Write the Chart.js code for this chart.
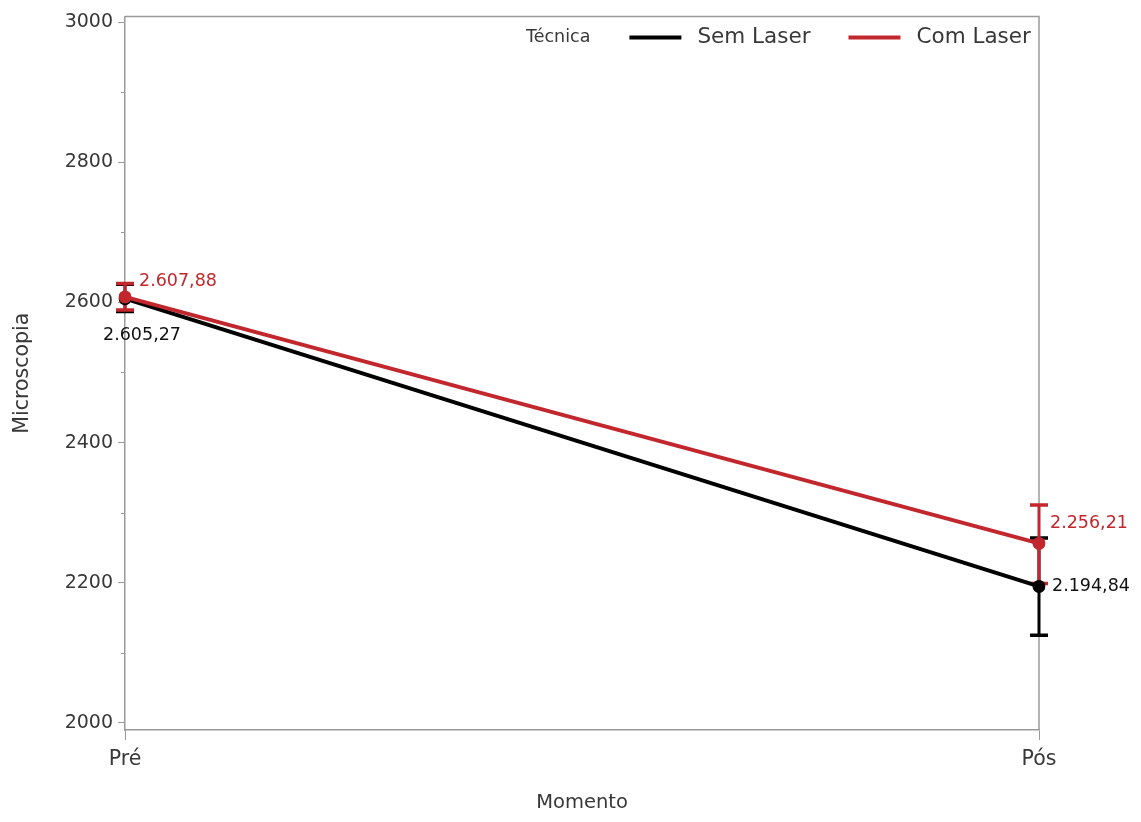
<!DOCTYPE html>
<html lang="pt">
<head>
<meta charset="utf-8">
<title>Microscopia por Momento</title>
<script src="https://cdn.jsdelivr.net/npm/chart.js@4"></script>
<style>
  html, body { margin: 0; padding: 0; background: #fff; }
  canvas { display: block; }
</style>
</head>
<body>
<canvas id="chart" width="1141" height="822"></canvas>
<script>
// === data ===
const MOMENTOS = ["Pré", "Pós"];

const SEM_LASER = [2605.27, 2194.84];
const SEM_LASER_LOW = [2587, 2125];
const SEM_LASER_HIGH = [2626, 2264];

const COM_LASER = [2607.88, 2256.21];
const COM_LASER_LOW = [2589, 2199];
const COM_LASER_HIGH = [2627, 2311];

const Y_MAJOR = [2000, 2200, 2400, 2600, 2800, 3000];
const Y_MINOR = [2100, 2300, 2500, 2700, 2900];

const LEGEND_TITLE = "Técnica";

// === styles ===
const FONT = "'DejaVu Sans', 'Liberation Sans', Arial, sans-serif";
const BLACK = "#000000";
const RED = "#c1272d";
const AXIS = "#9a9a9a";
const TEXT = "#383838";

// box around the plot area and the minor y ticks (under the data)
const frame = {
  id: "frame",
  beforeDatasetsDraw(chart) {
    const { ctx, chartArea: a, scales: { y } } = chart;
    ctx.save();
    ctx.strokeStyle = AXIS;
    ctx.lineWidth = 1.5;
    ctx.beginPath();
    ctx.moveTo(a.left, a.top);
    ctx.lineTo(a.right, a.top);
    ctx.lineTo(a.right, a.bottom);
    ctx.stroke();

    ctx.lineWidth = 1;
    ctx.beginPath();
    Y_MINOR.forEach(v => {
      const py = Math.round(y.getPixelForValue(v)) + 0.5;
      ctx.moveTo(a.left - 4, py);
      ctx.lineTo(a.left, py);
    });
    ctx.stroke();
    ctx.restore();
  },
};

// error bars (mean +/- interval) for each dataset
const errorBars = {
  id: "errorBars",
  beforeDatasetsDraw(chart) {
    const { ctx, scales: { x, y } } = chart;
    const drawOrder = [1, 0]; // Sem Laser first, Com Laser on top
    drawOrder.forEach(i => {
      const ds = chart.data.datasets[i];
      ctx.save();
      ctx.strokeStyle = ds.borderColor;
      ds.low.forEach((lo, j) => {
        const px = x.getPixelForValue(j);
        const yLo = y.getPixelForValue(lo);
        const yHi = y.getPixelForValue(ds.high[j]);
        ctx.lineWidth = 3;
        ctx.beginPath();
        ctx.moveTo(px, yLo);
        ctx.lineTo(px, yHi);
        ctx.stroke();
        ctx.lineWidth = 3.5;
        ctx.beginPath();
        ctx.moveTo(px - 9, yLo);
        ctx.lineTo(px + 9, yLo);
        ctx.moveTo(px - 9, yHi);
        ctx.lineTo(px + 9, yHi);
        ctx.stroke();
      });
      ctx.restore();
    });
  },
};

// value labels next to each mean point
const valueLabels = {
  id: "valueLabels",
  afterDatasetsDraw(chart) {
    const { ctx, scales: { x, y } } = chart;
    const fmt = v => v.toLocaleString("pt-BR", { minimumFractionDigits: 2, maximumFractionDigits: 2 });
    // per dataset, per point: [dx, dy, align]
    const placement = {
      "Sem Laser": [[17, 37, "center"], [13, 0, "left"]],
      "Com Laser": [[14, -15, "left"], [11, -20, "left"]],
    };
    ctx.save();
    ctx.font = `17.5px ${FONT}`;
    ctx.textBaseline = "middle";
    chart.data.datasets.forEach(ds => {
      ds.data.forEach((v, j) => {
        const [dx, dy, align] = placement[ds.label][j];
        ctx.fillStyle = ds.borderColor === BLACK ? "#111" : RED;
        ctx.textAlign = align;
        ctx.fillText(fmt(v), x.getPixelForValue(j) + dx, y.getPixelForValue(v) + dy);
      });
    });
    ctx.restore();
  },
};

// legend drawn inside the plot, top right
const insetLegend = {
  id: "insetLegend",
  afterDraw(chart) {
    const { ctx, chartArea: a } = chart;
    const ly = a.top + 21;
    let lx = 526;
    ctx.save();
    ctx.textBaseline = "middle";
    ctx.textAlign = "left";
    ctx.fillStyle = TEXT;
    ctx.font = `17.5px ${FONT}`;
    ctx.fillText(LEGEND_TITLE, lx, ly);
    lx += ctx.measureText(LEGEND_TITLE).width + 39;
    ctx.font = `21.5px ${FONT}`;
    [chart.data.datasets[1], chart.data.datasets[0]].forEach(ds => {
      ctx.strokeStyle = ds.borderColor;
      ctx.lineWidth = 4;
      ctx.beginPath();
      ctx.moveTo(lx, ly);
      ctx.lineTo(lx + 52, ly);
      ctx.stroke();
      lx += 68;
      ctx.fillStyle = TEXT;
      ctx.fillText(ds.label, lx, ly);
      lx += ctx.measureText(ds.label).width + 38;
    });
    ctx.restore();
  },
};

new Chart(document.getElementById("chart"), {
  type: "line",
  data: {
    labels: MOMENTOS,
    datasets: [
      {
        label: "Com Laser",
        data: COM_LASER,
        low: COM_LASER_LOW,
        high: COM_LASER_HIGH,
        borderColor: RED,
        backgroundColor: RED,
        order: 0,
      },
      {
        label: "Sem Laser",
        data: SEM_LASER,
        low: SEM_LASER_LOW,
        high: SEM_LASER_HIGH,
        borderColor: BLACK,
        backgroundColor: BLACK,
        order: 1,
      },
    ],
  },
  options: {
    responsive: false,
    animation: false,
    layout: { padding: { top: 15, right: 102, left: 0, bottom: 0 } },
    elements: {
      line: { borderWidth: 4, tension: 0 },
      point: { radius: 6.5, borderWidth: 0 },
    },
    plugins: {
      legend: { display: false },
      tooltip: { enabled: false },
    },
    scales: {
      x: {
        type: "category",
        offset: false,
        grid: { offset: false, drawOnChartArea: false, tickLength: 10, color: AXIS, lineWidth: 1 },
        border: { color: AXIS, width: 1.5 },
        ticks: { color: TEXT, font: { family: FONT, size: 20.5 }, padding: 7 },
        title: {
          display: true,
          text: "Momento",
          color: TEXT,
          font: { family: FONT, size: 19.5 },
          padding: { top: 0, bottom: 7 },
        },
        afterFit(scale) { scale.height = 92; },
      },
      y: {
        min: 1990,
        max: 3008,
        afterBuildTicks(scale) { scale.ticks = Y_MAJOR.map(v => ({ value: v })); },
        grid: { drawOnChartArea: false, tickLength: 7, color: AXIS, lineWidth: 1 },
        border: { color: AXIS, width: 1.5 },
        ticks: {
          color: TEXT,
          font: { family: FONT, size: 19 },
          padding: 5,
          callback: v => String(v),
        },
        title: {
          display: true,
          text: "Microscopia",
          color: TEXT,
          font: { family: FONT, size: 20.5 },
          padding: { top: 10, bottom: 0 },
        },
        afterFit(scale) { scale.width = 125; },
      },
    },
  },
  plugins: [frame, errorBars, valueLabels, insetLegend],
});
</script>
</body>
</html>
